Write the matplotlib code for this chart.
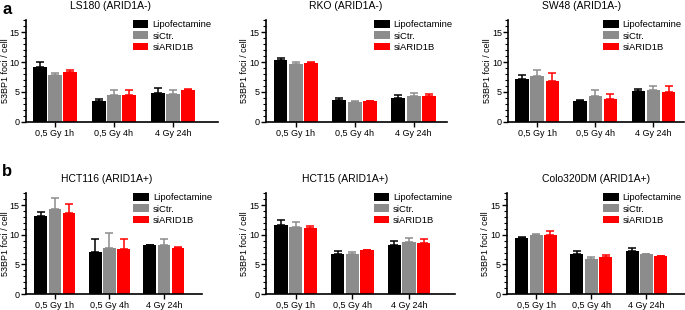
import matplotlib
matplotlib.use("Agg")
import matplotlib.pyplot as plt
import numpy as np
from matplotlib.ticker import MultipleLocator

plt.rcParams["font.family"] = ["Liberation Sans", "DejaVu Sans"]

conditions = ["0,5 Gy 1h", "0,5 Gy 4h", "4 Gy 24h"]
series = ["Lipofectamine", "siCtr.", "siARID1B"]
colors = ["#000000", "#8c8c8c", "#ff0000"]

titles = ["LS180 (ARID1A-)", "RKO (ARID1A-)", "SW48 (ARID1A-)",
          "HCT116 (ARID1A+)", "HCT15 (ARID1A+)", "Colo320DM (ARID1A+)"]

# mean foci per cell, rows = series (Lipofectamine, siCtr., siARID1B), cols = conditions
ls180_mean = [[9.1, 3.4, 4.85], [7.75, 4.5, 4.7], [8.4, 4.45, 5.4]]
ls180_err = [[0.95, 0.5, 0.8], [0.45, 0.75, 0.55], [0.3, 0.85, 0.1]]

rko_mean = [[10.35, 3.65, 4.05], [9.7, 3.25, 4.25], [9.85, 3.4, 4.3]]
rko_err = [[0.3, 0.3, 0.5], [0.3, 0.2, 0.55], [0.15, 0.05, 0.35]]

sw48_mean = [[7.1, 3.5, 5.1], [7.7, 4.25, 5.25], [6.85, 3.9, 5.05]]
sw48_err = [[0.7, 0.1, 0.4], [0.9, 1.0, 0.75], [1.25, 0.75, 0.95]]

hct116_mean = [[13.2, 7.1, 8.2], [14.3, 7.8, 8.3], [13.6, 7.6, 7.8]]
hct116_err = [[0.7, 2.1, 0.0], [1.9, 2.5, 1.0], [1.5, 1.6, 0.2]]

hct15_mean = [[11.7, 6.8, 8.3], [11.25, 6.75, 8.7], [11.1, 7.4, 8.6]]
hct15_err = [[0.85, 0.5, 0.6], [0.85, 0.3, 0.7], [0.35, 0.0, 0.65]]

colo_mean = [[9.5, 6.8, 7.2], [10.0, 5.9, 6.8], [9.95, 6.2, 6.5]]
colo_err = [[0.05, 0.5, 0.65], [0.1, 0.4, 0.0], [0.75, 0.35, 0.0]]

means = [ls180_mean, rko_mean, sw48_mean, hct116_mean, hct15_mean, colo_mean]
errs = [ls180_err, rko_err, sw48_err, hct116_err, hct15_err, colo_err]

W, H = 685, 310

# axes rectangles (figure fraction) and x limits per panel
rects = [(0.038, 0.607, 0.280, 0.328), (0.388, 0.607, 0.264, 0.328), (0.742, 0.607, 0.256, 0.328),
         (0.038, 0.051, 0.257, 0.326), (0.388, 0.051, 0.276, 0.326), (0.740, 0.051, 0.260, 0.326)]
xlims = [(-0.49, 2.76), (-0.51, 2.56), (-0.5, 2.52),
         (-0.53, 2.70), (-0.53, 2.81), (-0.53, 2.7)]
leg_x = [0.557, 0.60, 0.54, 0.61, 0.57, 0.54]
title_x = [0.44, 0.44, 0.42, 0.46, 0.42, 0.50]

fig = plt.figure(figsize=(W / 100, H / 100), dpi=100)

x = np.arange(len(conditions))
offset = 0.26
width = 0.235

for i in range(6):
    ax = fig.add_axes(rects[i])
    for j, name in enumerate(series):
        xs = x + (j - 1) * offset
        ax.bar(xs, means[i][j], width=width, color=colors[j], label=name, zorder=2)
        ax.errorbar(xs, means[i][j], yerr=[np.zeros(3), errs[i][j]], fmt="none",
                    ecolor=colors[j], elinewidth=1.1, capsize=2.6, capthick=1.1, zorder=1)
    ax.set_xlim(*xlims[i])
    ax.set_ylim(0, 17)
    ax.set_xticks(x)
    ax.set_xticklabels(conditions, fontsize=6.5)
    ax.yaxis.set_major_locator(MultipleLocator(5))
    ax.yaxis.set_minor_locator(MultipleLocator(1))
    ax.tick_params(axis="y", labelsize=6.5, length=3.5, width=1, pad=1)
    ax.tick_params(axis="y", which="minor", length=2, width=0.8)
    ax.tick_params(axis="x", length=3.5, width=1, pad=1.5)
    for s in ["top", "right"]:
        ax.spines[s].set_visible(False)
    for s in ["left", "bottom"]:
        ax.spines[s].set_linewidth(1.2)
    ax.set_ylabel("53BP1 foci / cell", fontsize=6.5)
    ax.yaxis.set_label_coords(-16.5 / (rects[i][2] * W), 0.5)
    ax.set_title(titles[i], fontsize=7.5, x=title_x[i], pad=8)
    ax.legend(loc="upper left", bbox_to_anchor=(leg_x[i], 1.0), frameon=False,
              fontsize=6.8, handlelength=1.65, handleheight=0.9, handletextpad=0.4,
              labelspacing=0.22, borderpad=0, borderaxespad=0)

fig.text(0.003, 0.995, "a", fontsize=12, fontweight="bold", va="top")
fig.text(0.003, 0.47, "b", fontsize=12, fontweight="bold", va="top")

fig.savefig("out.png", dpi=100)
